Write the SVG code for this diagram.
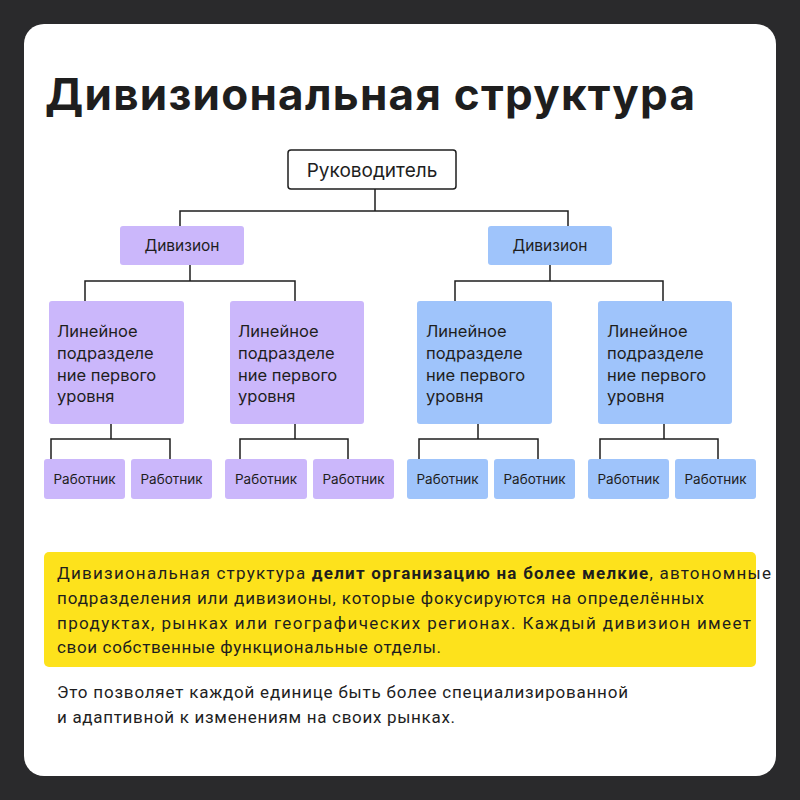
<svg xmlns="http://www.w3.org/2000/svg" width="800" height="800" viewBox="0 0 800 800">
<style>
.t{font-family:Inter,"Noto Sans",sans-serif;fill:#1e1e1e}
.p{fill:#cbb7fb}.b{fill:#9fc4fb}
.c{stroke:#1e1e1e;stroke-width:1.5;fill:none}
.n{font-size:16.5px}.w{font-size:13.5px;text-anchor:middle}
.d{font-family:Roboto,"Noto Sans",sans-serif;font-size:17px;fill:#1e1e1e}
</style>
<rect width="800" height="800" fill="#2a2a2c"/>
<rect x="24" y="24" width="752" height="752" rx="20" fill="#fff"/>
<text x="45" y="110" class="t" font-size="44" font-weight="700" textLength="650">Дивизиональная структура</text>
<g id="connectors" class="c">
<path d="M375 189V211M180 226V211H568V226"/>
<path d="M190 265V281M85 301V281H295V301"/>
<path d="M550 265V281M455 301V281H663V301"/>
<path d="M111 424V439M51 459V439H170V459"/>
<path d="M295 424V439M240 459V439H348V459"/>
<path d="M478 424V439M419 459V439H538V459"/>
<path d="M664 424V439M600 459V439H718V459"/>
</g>
<g id="head"><rect x="288" y="150" width="168" height="39" rx="3" fill="#fff" stroke="#1e1e1e" stroke-width="1.5"/><text x="372" y="177" class="t" font-size="19" text-anchor="middle">Руководитель</text></g>
<g id="div1"><rect class="p" x="120" y="226" width="124" height="39" rx="3"/><text x="182" y="251" class="t" font-size="15.5" text-anchor="middle">Дивизион</text></g>
<g id="div2"><rect class="b" x="488" y="226" width="124" height="39" rx="3"/><text x="550" y="251" class="t" font-size="15.5" text-anchor="middle">Дивизион</text></g>
<g id="lin1"><rect class="p" x="49" y="301" width="135" height="123" rx="3"/><text class="t n" x="57" y="337">Линейное<tspan x="57" dy="22">подразделе</tspan><tspan x="57" dy="22">ние первого</tspan><tspan x="57" dy="21">уровня</tspan></text></g>
<g id="lin2"><rect class="p" x="230" y="301" width="134" height="123" rx="3"/><text class="t n" x="238" y="337">Линейное<tspan x="238" dy="22">подразделе</tspan><tspan x="238" dy="22">ние первого</tspan><tspan x="238" dy="21">уровня</tspan></text></g>
<g id="lin3"><rect class="b" x="417" y="301" width="135" height="123" rx="3"/><text class="t n" x="426" y="337">Линейное<tspan x="426" dy="22">подразделе</tspan><tspan x="426" dy="22">ние первого</tspan><tspan x="426" dy="21">уровня</tspan></text></g>
<g id="lin4"><rect class="b" x="598" y="301" width="134" height="123" rx="3"/><text class="t n" x="607" y="337">Линейное<tspan x="607" dy="22">подразделе</tspan><tspan x="607" dy="22">ние первого</tspan><tspan x="607" dy="21">уровня</tspan></text></g>
<g id="w1"><rect class="p" x="44" y="459" width="81" height="40" rx="3"/><text class="t w" x="84.5" y="484">Работник</text></g>
<g id="w2"><rect class="p" x="131" y="459" width="81" height="40" rx="3"/><text class="t w" x="171.5" y="484">Работник</text></g>
<g id="w3"><rect class="p" x="225" y="459" width="82" height="40" rx="3"/><text class="t w" x="266" y="484">Работник</text></g>
<g id="w4"><rect class="p" x="313" y="459" width="81" height="40" rx="3"/><text class="t w" x="353.5" y="484">Работник</text></g>
<g id="w5"><rect class="b" x="407" y="459" width="81" height="40" rx="3"/><text class="t w" x="447.5" y="484">Работник</text></g>
<g id="w6"><rect class="b" x="494" y="459" width="81" height="40" rx="3"/><text class="t w" x="534.5" y="484">Работник</text></g>
<g id="w7"><rect class="b" x="588" y="459" width="81" height="40" rx="3"/><text class="t w" x="628.5" y="484">Работник</text></g>
<g id="w8"><rect class="b" x="675" y="459" width="81" height="40" rx="3"/><text class="t w" x="715.5" y="484">Работник</text></g>
<rect x="44" y="552" width="712" height="115" rx="5" fill="#fde21c"/>
<text class="d" x="57" y="579" textLength="714">Дивизиональная структура <tspan font-weight="700">делит организацию на более мелкие</tspan>, автономные</text>
<text class="d" x="57" y="604" textLength="647">подразделения или дивизионы, которые фокусируются на определённых</text>
<text class="d" x="57" y="629" textLength="694">продуктах, рынках или географических регионах. Каждый дивизион имеет</text>
<text class="d" x="57" y="653" textLength="384">свои собственные функциональные отделы.</text>
<text class="d" x="57" y="698" textLength="571">Это позволяет каждой единице быть более специализированной</text>
<text class="d" x="57" y="723" textLength="398">и адаптивной к изменениям на своих рынках.</text>
</svg>
